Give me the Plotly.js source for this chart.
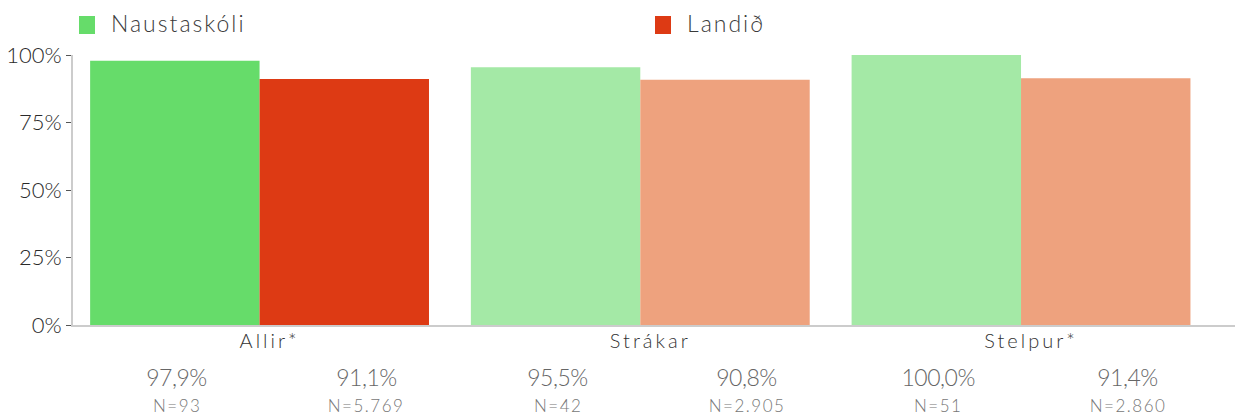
<!DOCTYPE html>
<html>
<head>
<meta charset="utf-8">
<script src="https://cdn.plot.ly/plotly-3.0.1.min.js"></script>
<style>
html,body{margin:0;padding:0;background:#fff;}
#chart{width:1242px;height:416px;}
.xtick text{letter-spacing:3px;}
g.annotation[data-index="0"] text, g.annotation[data-index="1"] text{letter-spacing:2px;}
g.annotation.vals text{letter-spacing:-0.5px;}
g.annotation.ns text{letter-spacing:1.5px;}
</style>
</head>
<body>
<div id="chart"></div>
<script>
const categories = ['Allir*', 'Strákar', 'Stelpur*'];
const seriesNames = ['Naustaskóli', 'Landið'];
const naustValues = [97.9, 95.5, 100.0];
const landidValues = [91.1, 90.8, 91.4];
const naustN = ['93', '42', '51'];
const landidN = ['5.769', '2.905', '2.860'];
const yTickVals = [0, 25, 50, 75, 100];
const yTickText = ['0%', '25%', '50%', '75%', '100%'];

const naustColors = ['#66DC6A', '#A4E9A6', '#A4E9A6'];
const landidColors = ['#DD3A14', '#EEA27E', '#EEA27E'];
const FONT = 'Lato, "Noto Sans", sans-serif';

// plot area geometry (px) for paper-coordinate helpers
const M = {l: 73, r: 7, t: 55, b: 91};
const W = 1242, H = 416;
const PW = W - M.l - M.r, PH = H - M.t - M.b;
const px = x => (x - M.l) / PW;
const py = y => (H - M.b - y) / PH;

function fmtPct(v) { return v.toFixed(1).replace('.', ',') + '%'; }

const traces = [
  {type: 'bar', name: seriesNames[0], x: categories, y: naustValues,
   marker: {color: naustColors}, hoverinfo: 'none', showlegend: false},
  {type: 'bar', name: seriesNames[1], x: categories, y: landidValues,
   marker: {color: landidColors}, hoverinfo: 'none', showlegend: false}
];

// manual legend
const legendMarkX = [79, 655];
const legendColors = [naustColors[0], landidColors[0]];
const shapes = legendMarkX.map((x0, k) => ({
  type: 'rect', xref: 'paper', yref: 'paper',
  x0: px(x0), x1: px(x0 + 16), y0: py(34), y1: py(16),
  fillcolor: legendColors[k], line: {width: 0}
}));
const legendTextShift = [41, 36];
const annotations = seriesNames.map((name, k) => ({
  xref: 'paper', yref: 'paper', x: px(legendMarkX[k] + legendTextShift[k]), y: py(23),
  xanchor: 'left', yanchor: 'middle', showarrow: false, text: name,
  font: {family: FONT, size: 23, color: '#3a3a3a', weight: 300}
}));

const offsets = [-0.217, 0.28];
categories.forEach((c, i) => {
  [[naustValues, naustN], [landidValues, landidN]].forEach((pair, s) => {
    annotations.push({x: i + offsets[s], xref: 'x', y: py(377), yref: 'paper',
      text: fmtPct(pair[0][i]), showarrow: false, xanchor: 'center', yanchor: 'middle',
      font: {family: FONT, size: 23, color: '#666', weight: 300}, _cls: 'vals'});
    annotations.push({x: i + offsets[s], xref: 'x', y: py(405), yref: 'paper',
      text: 'N=' + pair[1][i], showarrow: false, xanchor: 'center', yanchor: 'middle',
      font: {family: FONT, size: 17, color: '#777', weight: 300}, _cls: 'ns'});
  });
});
const classes = annotations.map(a => a._cls || '');
annotations.forEach(a => delete a._cls);

const layout = {
  width: W, height: H,
  margin: M,
  paper_bgcolor: '#fff', plot_bgcolor: '#fff',
  font: {family: FONT, color: '#333'},
  barmode: 'group', bargap: 0.11, bargroupgap: 0,
  showlegend: false,
  xaxis: {type: 'category', range: [-0.49, 2.562], showgrid: false, zeroline: false,
    showline: true, linecolor: '#cccccc', linewidth: 2, ticks: '',
    ticklabelshift: 10, ticklabelstandoff: -3,
    tickfont: {family: FONT, size: 20, color: '#333', weight: 300}, fixedrange: true},
  yaxis: {range: [0, 100], showgrid: false, zeroline: false,
    showline: true, linecolor: '#cccccc', linewidth: 2,
    ticks: 'outside', ticklen: 5, tickwidth: 1, tickcolor: '#555',
    tickvals: yTickVals, ticktext: yTickText,
    tickfont: {family: FONT, size: 22, color: '#2a2a2a', weight: 300}, fixedrange: true},
  shapes: shapes,
  annotations: annotations
};

function tagAnnotations() {
  document.querySelectorAll('g.annotation').forEach(g => {
    const idx = +g.getAttribute('data-index');
    if (classes[idx]) g.classList.add(classes[idx]);
  });
}
Plotly.newPlot('chart', traces, layout, {displayModeBar: false, staticPlot: true}).then(tagAnnotations);
</script>
</body>
</html>
